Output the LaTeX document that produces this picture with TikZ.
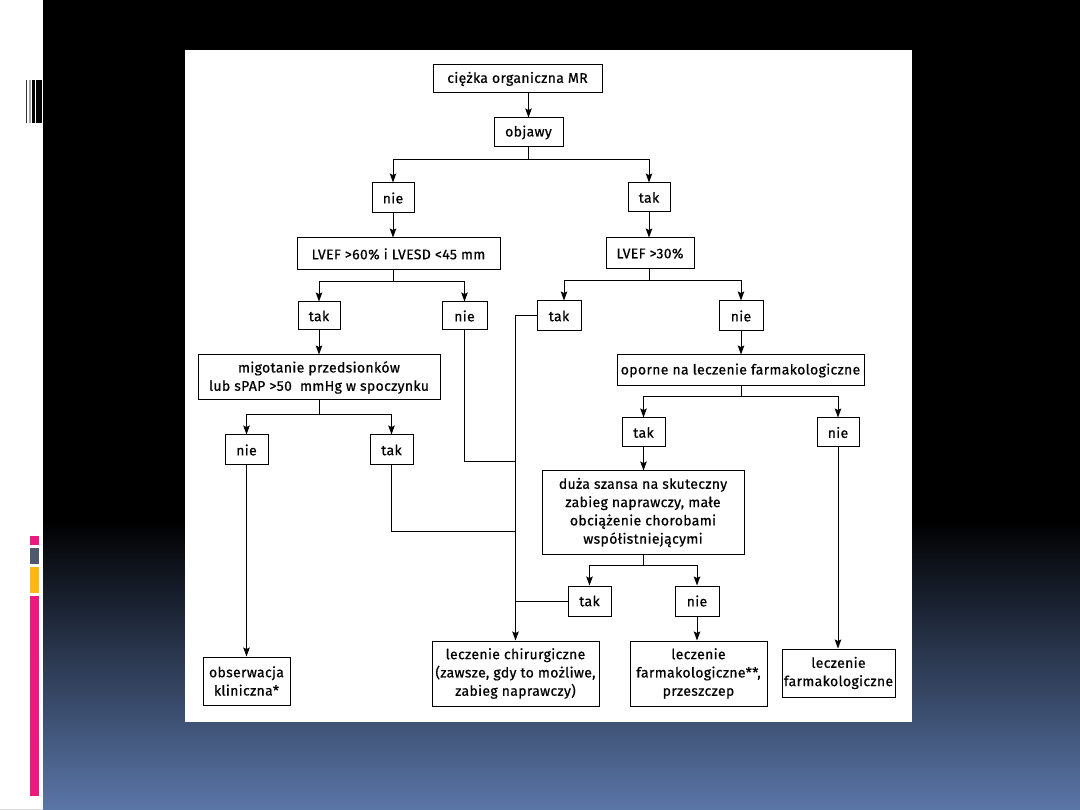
\documentclass[tikz,border=0pt]{standalone}
\usepackage{fontspec}
\setmainfont{Fira Sans}[LetterSpace=2.5, FakeBold=0.6]
\usetikzlibrary{arrows.meta}
\definecolor{bgblue}{RGB}{90,118,168}
\definecolor{pinkc}{RGB}{236,26,126}
\definecolor{grayc}{RGB}{78,90,108}
\definecolor{orangec}{RGB}{253,183,20}
\begin{document}
\begin{tikzpicture}[x=1pt,y=-1pt,
  box/.style={draw=black, line width=1pt, fill=white, inner sep=0pt, align=center,
    font=\fontsize{14}{18.3}\selectfont},
  wh/.style 2 args={minimum width=#1pt, minimum height=#2pt},
  arr/.style={line width=1pt, -{Stealth[length=9pt,width=6.5pt,inset=1.5pt]}},
  ln/.style={line width=1pt}]
\useasboundingbox (0,0) rectangle (1080,810);
% background
\fill[white] (0,0) rectangle (1080,810);
\fill[black] (43,0) rectangle (1080,521);
\shade[top color=black, bottom color=bgblue] (43,520) rectangle (1080,810);
\fill[white] (185,50) rectangle (912,722);
% decorations
\fill[black!80] (26,80) rectangle (27,123);
\fill[gray!70] (28.7,80) rectangle (31.3,123);
\fill[black] (32,80) rectangle (34.7,123);
\fill[black] (36,80) rectangle (41.5,123);
\fill[pinkc] (30,536) rectangle (39,545);
\fill[grayc] (30,548) rectangle (39,564);
\fill[orangec] (30,567) rectangle (39,593);
\fill[pinkc] (30,596) rectangle (39,796);
\draw[gray!30] (0,809.5) -- (43,809.5);
% nodes
\node[box, wh={169}{28}] (top) at (517.5,79) {ciężka organiczna MR};
\node[box, wh={69}{29}] (objawy) at (528.5,132.5) {objawy};
\node[box, wh={42}{30}] (nie1) at (393,198) {nie};
\node[box, wh={42}{29}] (tak1) at (649,197.5) {tak};
\node[box, wh={203}{32}] (lvef60) at (398.5,254) {LVEF >60\% i LVESD <45 mm};
\node[box, wh={42}{28}] (tak2) at (319,316) {tak};
\node[box, wh={45}{28}] (nie2) at (464.5,316) {nie};
\node[box, wh={242}{45}] (migot) at (319,377.5) {migotanie przedsionków\\lub sPAP >50~ mmHg w spoczynku};
\node[box, wh={43}{30}] (nie3) at (246.5,450) {nie};
\node[box, wh={43}{30}] (tak3) at (391.5,450) {tak};
\node[box, wh={87}{48}] (obserw) at (246.5,681) {obserwacja\\kliniczna*};
\node[box, wh={167}{65}] (chir) at (515.5,673.5) {leczenie chirurgiczne\\(zawsze, gdy to możliwe,\\zabieg naprawczy)};
\node[box, wh={88}{31}] (lvef30) at (650,253.5) {LVEF >30\%};
\node[box, wh={44}{30}] (tak4) at (559,316) {tak};
\node[box, wh={44}{30}] (nie4) at (741,316) {nie};
\node[box, wh={247}{31}] (oporne) at (740.5,370.5) {oporne na leczenie farmakologiczne};
\node[box, wh={43}{29}] (tak5) at (643.5,432.5) {tak};
\node[box, wh={42}{29}] (nie5) at (838,432.5) {nie};
\node[box, wh={202}{83}] (duza) at (643,512.5) {duża szansa na skuteczny\\zabieg naprawczy, małe\\obciążenie chorobami\\współistniejącymi};
\node[box, wh={43}{30}] (tak6) at (589.5,601) {tak};
\node[box, wh={44}{30}] (nie6) at (697,601) {nie};
\node[box, wh={137}{65}] (farm2) at (698.5,673.5) {leczenie\\farmakologiczne**,\\przeszczep};
\node[box, wh={113}{48}] (farm) at (838.5,673) {leczenie\\farmakologiczne};
% connectors left
\draw[arr] (top.south -| objawy.north) -- (objawy.north);
\coordinate (j1) at (528.5,160);
\draw[ln] (objawy.south) -- (j1);
\draw[arr] (j1) -| (nie1.north);
\draw[arr] (j1) -| (tak1.north);
\draw[arr] (nie1.south) -- (nie1.south |- lvef60.north);
\coordinate (j2) at (393,282);
\draw[ln] (nie1.south |- lvef60.south) -- (j2);
\draw[arr] (j2) -| (tak2.north);
\draw[arr] (j2) -| (nie2.north);
\draw[arr] (tak2.south) -- (tak2.south |- migot.north);
\coordinate (j3) at (319,415);
\draw[ln] (migot.south) -- (j3);
\draw[arr] (j3) -| (nie3.north);
\draw[arr] (j3) -| (tak3.north);
\draw[arr] (nie3.south) -- (obserw.north);
\coordinate (c1) at (515.5,531);
\coordinate (c2) at (515.5,462);
\draw[ln] (tak3.south) |- (c1);
\draw[ln] (nie2.south) |- (c2);
\draw[arr] (tak4.west) -| (chir.north);
\draw[ln] (tak6.west) -- (tak6.west -| chir.north);
% connectors right
\draw[arr] (tak1.south) -- (tak1.south |- lvef30.north);
\coordinate (j4) at (649,281);
\draw[ln] (tak1.south |- lvef30.south) -- (j4);
\draw[arr] (j4) -| ([xshift=5pt]tak4.north);
\draw[arr] (j4) -| (nie4.north);
\draw[arr] (nie4.south) -- (nie4.south |- oporne.north);
\coordinate (j5) at (741,397);
\draw[ln] (nie4.south |- oporne.south) -- (j5);
\draw[arr] (j5) -| (tak5.north);
\draw[arr] (j5) -| (nie5.north);
\draw[arr] (tak5.south) -- (tak5.south |- duza.north);
\coordinate (j6) at (643.5,565);
\draw[ln] (tak5.south |- duza.south) -- (j6);
\draw[arr] (j6) -| (tak6.north);
\draw[arr] (j6) -| (nie6.north);
\draw[arr] (nie6.south) -- (nie6.south |- farm2.north);
\draw[arr] (nie5.south) -- (nie5.south |- farm.north);
\end{tikzpicture}
\end{document}
